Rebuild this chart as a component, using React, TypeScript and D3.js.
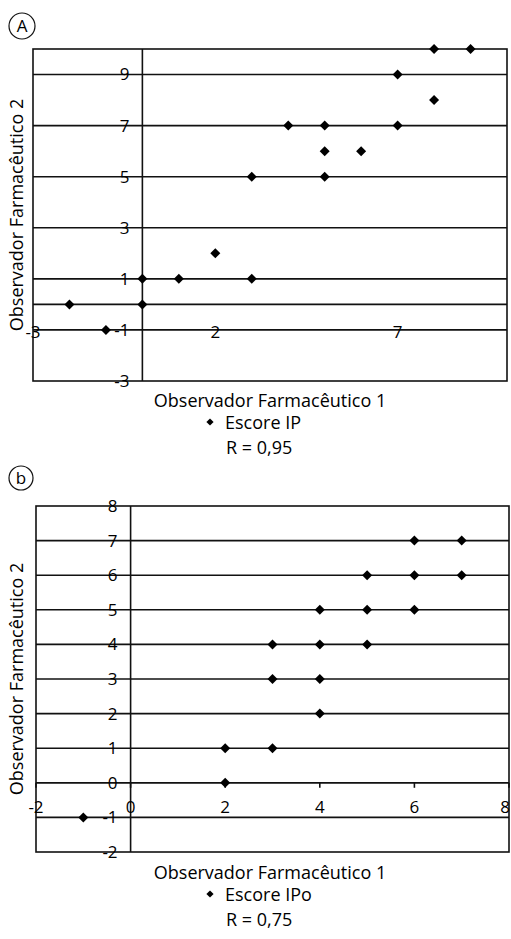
import React, { useEffect, useRef } from 'react';
import * as d3 from 'd3';

// Panel A: Escore IP
const scoreIpX = [-2, -1, 0, 0, 1, 2, 3, 3, 4, 5, 5, 5, 6, 7, 7, 8, 8, 9];
const scoreIpY = [0, -1, 0, 1, 1, 2, 1, 5, 7, 7, 6, 5, 6, 7, 9, 8, 10, 10];
const scoreIpXTicks = [-3, 2, 7];
const scoreIpYTicks = [-3, -1, 1, 3, 5, 7, 9];
const scoreIpGrid = [-1, 1, 3, 5, 7, 9];

// Panel B: Escore IPo
const scoreIpoX = [-1, 2, 2, 3, 3, 3, 4, 4, 4, 4, 5, 5, 5, 6, 6, 6, 7, 7];
const scoreIpoY = [-1, 0, 1, 1, 3, 4, 2, 3, 4, 5, 4, 5, 6, 5, 6, 7, 6, 7];
const scoreIpoXTicks = [-2, 0, 2, 4, 6, 8];
const scoreIpoYTicks = [-2, -1, 0, 1, 2, 3, 4, 5, 6, 7, 8];
const scoreIpoGrid = [-1, 0, 1, 2, 3, 4, 5, 6, 7];

const FONT = "'Open Sans', sans-serif";
const W = 511;

function drawPanel(svg, cfg) {
  const x = d3.scaleLinear().domain(cfg.xDomain).range(cfg.xRange);
  const y = d3.scaleLinear().domain(cfg.yDomain).range(cfg.yRange);
  const [x0, x1] = cfg.xRange;
  const [y0, y1] = cfg.yRange;

  const g = svg.append('g');

  // gridlines
  g.selectAll('line.grid')
    .data(cfg.grid)
    .enter()
    .append('line')
    .attr('x1', x0)
    .attr('x2', x1)
    .attr('y1', (d) => y(d))
    .attr('y2', (d) => y(d))
    .attr('stroke', '#111')
    .attr('stroke-width', 1.6);

  // x axis at y = 0
  g.append('line')
    .attr('x1', x0)
    .attr('x2', x1)
    .attr('y1', y(0))
    .attr('y2', y(0))
    .attr('stroke', '#111')
    .attr('stroke-width', 1.6);

  // y axis at x = 0
  g.append('line')
    .attr('x1', x(0))
    .attr('x2', x(0))
    .attr('y1', y0)
    .attr('y2', y1)
    .attr('stroke', '#111')
    .attr('stroke-width', 1.6);

  // frame
  g.append('rect')
    .attr('x', x0)
    .attr('y', y1)
    .attr('width', x1 - x0)
    .attr('height', y0 - y1)
    .attr('fill', 'none')
    .attr('stroke', '#111')
    .attr('stroke-width', 1.6);

  if (cfg.tickMarks) {
    g.selectAll('line.xtick')
      .data(cfg.xTicks)
      .enter()
      .append('line')
      .attr('x1', (d) => x(d))
      .attr('x2', (d) => x(d))
      .attr('y1', y(0))
      .attr('y2', y(0) + 5)
      .attr('stroke', '#111')
      .attr('stroke-width', 1.6);
  }

  // y tick labels
  g.selectAll('text.ytick')
    .data(cfg.yTicks)
    .enter()
    .append('text')
    .attr('x', x(0) - 13)
    .attr('y', (d) => y(d))
    .attr('dy', '0.35em')
    .attr('text-anchor', 'end')
    .style('font-family', FONT)
    .style('font-size', '17px')
    .text((d) => d);

  // x tick labels (last one kept inside the page)
  g.selectAll('text.xtick')
    .data(cfg.xTicks)
    .enter()
    .append('text')
    .attr('x', (d) => (x(d) + 6 > W ? W - 1 : x(d)))
    .attr('y', y(0) + cfg.xLabelOffset)
    .attr('text-anchor', (d) => (x(d) + 6 > W ? 'end' : 'middle'))
    .style('font-family', FONT)
    .style('font-size', '17px')
    .text((d) => d);

  // points
  const diamond = d3.symbol(d3.symbolSquare, 50)();
  g.selectAll('path.pt')
    .data(cfg.xs.map((v, i) => [v, cfg.ys[i]]))
    .enter()
    .append('path')
    .attr('d', diamond)
    .attr('transform', (d) => `translate(${x(d[0])},${y(d[1])}) rotate(45)`)
    .attr('fill', '#000');

  // y axis title
  g.append('text')
    .attr('transform', `translate(23, ${(y0 + y1) / 2}) rotate(-90)`)
    .attr('text-anchor', 'middle')
    .style('font-family', FONT)
    .style('font-size', '18px')
    .text('Observador Farmacêutico 2');

  // x axis title
  g.append('text')
    .attr('x', 270)
    .attr('y', y0 + cfg.titleOffset)
    .attr('text-anchor', 'middle')
    .style('font-family', FONT)
    .style('font-size', '18px')
    .text('Observador Farmacêutico 1');

  // legend
  const ly = y0 + cfg.titleOffset + 22;
  g.append('path')
    .attr('d', d3.symbol(d3.symbolSquare, 26)())
    .attr('transform', `translate(210, ${ly - 7}) rotate(45)`)
    .attr('fill', '#000');
  g.append('text')
    .attr('x', 225)
    .attr('y', ly)
    .style('font-family', FONT)
    .style('font-size', '18px')
    .text(cfg.legend);
  g.append('text')
    .attr('x', 226)
    .attr('y', ly + 25)
    .style('font-family', FONT)
    .style('font-size', '18px')
    .text(cfg.rText);

  // panel letter
  g.append('circle')
    .attr('cx', cfg.letterPos[0])
    .attr('cy', cfg.letterPos[1])
    .attr('r', cfg.letterR)
    .attr('fill', 'none')
    .attr('stroke', '#111')
    .attr('stroke-width', 1.2);
  g.append('text')
    .attr('x', cfg.letterPos[0])
    .attr('y', cfg.letterPos[1])
    .attr('dy', '0.35em')
    .attr('text-anchor', 'middle')
    .style('font-family', FONT)
    .style('font-size', '17px')
    .text(cfg.letter);
}

export default function App() {
  const ref = useRef(null);

  useEffect(() => {
    const svg = d3.select(ref.current);
    svg.selectAll('*').remove();

    drawPanel(svg, {
      xs: scoreIpX,
      ys: scoreIpY,
      xDomain: [-3, 10],
      yDomain: [-3, 10],
      xRange: [33, 507],
      yRange: [381, 49],
      grid: scoreIpGrid,
      xTicks: scoreIpXTicks,
      yTicks: scoreIpYTicks,
      xLabelOffset: 34,
      tickMarks: false,
      titleOffset: 26,
      legend: 'Escore IP',
      rText: 'R = 0,95',
      letter: 'A',
      letterPos: [22, 26],
      letterR: 13,
    });

    drawPanel(svg, {
      xs: scoreIpoX,
      ys: scoreIpoY,
      xDomain: [-2, 8],
      yDomain: [-2, 8],
      xRange: [36, 509],
      yRange: [852, 506],
      grid: scoreIpoGrid,
      xTicks: scoreIpoXTicks,
      yTicks: scoreIpoYTicks,
      xLabelOffset: 30,
      tickMarks: true,
      titleOffset: 27,
      legend: 'Escore IPo',
      rText: 'R = 0,75',
      letter: 'b',
      letterPos: [21, 478],
      letterR: 12,
    });
  }, []);

  return (
    <svg
      ref={ref}
      width={511}
      height={939}
      style={{ position: 'absolute', left: 0, top: 0, background: '#fff' }}
    />
  );
}
